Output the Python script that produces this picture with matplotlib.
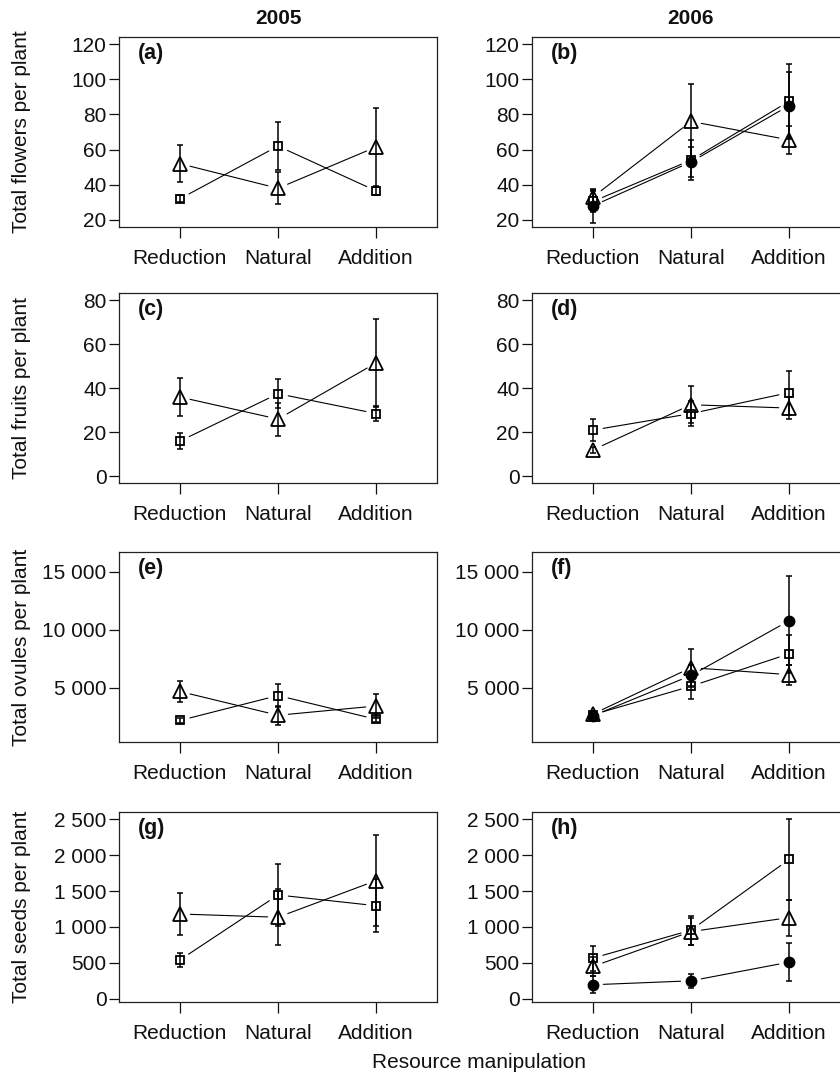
import matplotlib
matplotlib.use("Agg")
import matplotlib.pyplot as plt

plt.rcParams['font.family'] = ['Liberation Sans', 'DejaVu Sans']

# categories
treatments = ["Reduction", "Natural", "Addition"]
years = ["2005", "2006"]
x = [1, 2, 3]

# (a) flowers 2005
a_tri = [52, 38, 61.5]
a_tri_err = [10.5, 9, 22]
a_sq = [32, 62, 36.5]
a_sq_err = [2, 13.5, 2.5]

# (b) flowers 2006
b_tri = [33, 76, 65.5]
b_tri_err = [4, 21.5, 8]
b_sq = [30.5, 54, 87.5]
b_sq_err = [6, 11.5, 21]
b_dot = [28, 53, 85]
b_dot_err = [9.5, 8.5, 19]

# (c) fruits 2005
c_tri = [36, 26, 51.5]
c_tri_err = [8.5, 7.5, 20]
c_sq = [16, 37.5, 28.5]
c_sq_err = [3.8, 6.5, 3.3]

# (d) fruits 2006
d_tri = [12, 32.5, 31]
d_tri_err = [1.5, 8.5, 5]
d_sq = [21, 28.5, 38]
d_sq_err = [5, 5.6, 10]

# (e) ovules 2005
e_tri = [4700, 2650, 3450]
e_tri_err = [930, 800, 1000]
e_sq = [2200, 4350, 2300]
e_sq_err = [200, 1030, 200]

# (f) ovules 2006
f_tri = [2750, 6750, 6150]
f_tri_err = [300, 1650, 850]
f_sq = [2700, 5150, 7950]
f_sq_err = [250, 1100, 1650]
f_dot = [2600, 6080, 10800]
f_dot_err = [300, 900, 3850]

# (g) seeds 2005
g_tri = [1180, 1135, 1645]
g_tri_err = [290, 390, 635]
g_sq = [540, 1445, 1295]
g_sq_err = [100, 430, 370]

# (h) seeds 2006
h_tri = [450, 935, 1130]
h_tri_err = [130, 190, 250]
h_sq = [565, 955, 1940]
h_sq_err = [175, 200, 560]
h_dot = [195, 250, 510]
h_dot_err = [115, 100, 260]

# row settings
row_labels = ["Total flowers per plant", "Total fruits per plant",
              "Total ovules per plant", "Total seeds per plant"]
row_ylims = [(16, 124), (-3, 83.2), (345, 16720), (-45, 2600)]
row_ticks = [[20, 40, 60, 80, 100, 120], [0, 20, 40, 60, 80],
             [5000, 10000, 15000], [0, 500, 1000, 1500, 2000, 2500]]
row_ticklabels = [["20", "40", "60", "80", "100", "120"],
                  ["0", "20", "40", "60", "80"],
                  ["5 000", "10 000", "15 000"],
                  ["0", "500", "1 000", "1 500", "2 000", "2 500"]]

panels = [
    ("(a)", [(a_tri, a_tri_err, "^"), (a_sq, a_sq_err, "s")]),
    ("(b)", [(b_tri, b_tri_err, "^"), (b_sq, b_sq_err, "s"), (b_dot, b_dot_err, "o")]),
    ("(c)", [(c_tri, c_tri_err, "^"), (c_sq, c_sq_err, "s")]),
    ("(d)", [(d_tri, d_tri_err, "^"), (d_sq, d_sq_err, "s")]),
    ("(e)", [(e_tri, e_tri_err, "^"), (e_sq, e_sq_err, "s")]),
    ("(f)", [(f_tri, f_tri_err, "^"), (f_sq, f_sq_err, "s"), (f_dot, f_dot_err, "o")]),
    ("(g)", [(g_tri, g_tri_err, "^"), (g_sq, g_sq_err, "s")]),
    ("(h)", [(h_tri, h_tri_err, "^"), (h_sq, h_sq_err, "s"), (h_dot, h_dot_err, "o")]),
]

W, H = 840, 1075
fig = plt.figure(figsize=(W / 100, H / 100), dpi=100)

col_left = [119, 532]
ax_w = 318
row_top = [37, 293, 552, 812]
ax_h = 190

marker_size = {"^": 9.5, "s": 6.0, "o": 7.5}

for i, (tag, series) in enumerate(panels):
    r, c = divmod(i, 2)
    ax = fig.add_axes([col_left[c] / W, 1 - (row_top[r] + ax_h) / H, ax_w / W, ax_h / H])
    ax.set_xlim(0.38, 3.62)
    ax.set_ylim(*row_ylims[r])
    for sp in ax.spines.values():
        sp.set_linewidth(0.9)
        sp.set_color("#222222")

    for y, err, m in series:
        ax.errorbar(x, y, yerr=err, fmt="none", ecolor="k", elinewidth=1.1,
                    capsize=2.5, capthick=1.1)
        if m == "o":
            ax.plot(x, y, ls="none", marker=m, ms=marker_size[m], mfc="k", mec="k")
        else:
            ax.plot(x, y, ls="none", marker=m, ms=marker_size[m], mfc="none",
                    mec="k", mew=1.3)
        # connecting lines stop short of the symbols
        for j in range(len(x) - 1):
            ax.annotate("", xy=(x[j + 1], y[j + 1]), xytext=(x[j], y[j]),
                        arrowprops=dict(arrowstyle="-", shrinkA=7.5, shrinkB=7.5,
                                        lw=0.8, color="k"))

    ax.set_xticks(x)
    ax.set_xticklabels(treatments)
    ax.set_yticks(row_ticks[r])
    ax.set_yticklabels(row_ticklabels[r])
    ax.tick_params(axis="x", direction="out", length=8, width=0.9, pad=8,
                   labelsize=15, colors="#111111")
    ax.tick_params(axis="y", direction="out", length=7, width=0.9, pad=2,
                   labelsize=15, colors="#111111")

    ax.text(0.06, 0.915, tag, transform=ax.transAxes, fontsize=15.5,
            fontweight="bold", ha="left", va="center", color="#111111")

    if r == 0:
        ax.text(0.5, 1.0 + 19 / ax_h, years[c], transform=ax.transAxes,
                fontsize=15, fontweight="bold", ha="center", va="center",
                color="#111111")
    if c == 0:
        fig.text(22 / W, 1 - (row_top[r] + ax_h / 2) / H, row_labels[r],
                 rotation=90, ha="center", va="center", fontsize=15,
                 color="#111111")

fig.text(479 / W, 1 - 1063 / H, "Resource manipulation", ha="center",
         va="center", fontsize=15, color="#111111")

fig.savefig("out.png", dpi=100)
